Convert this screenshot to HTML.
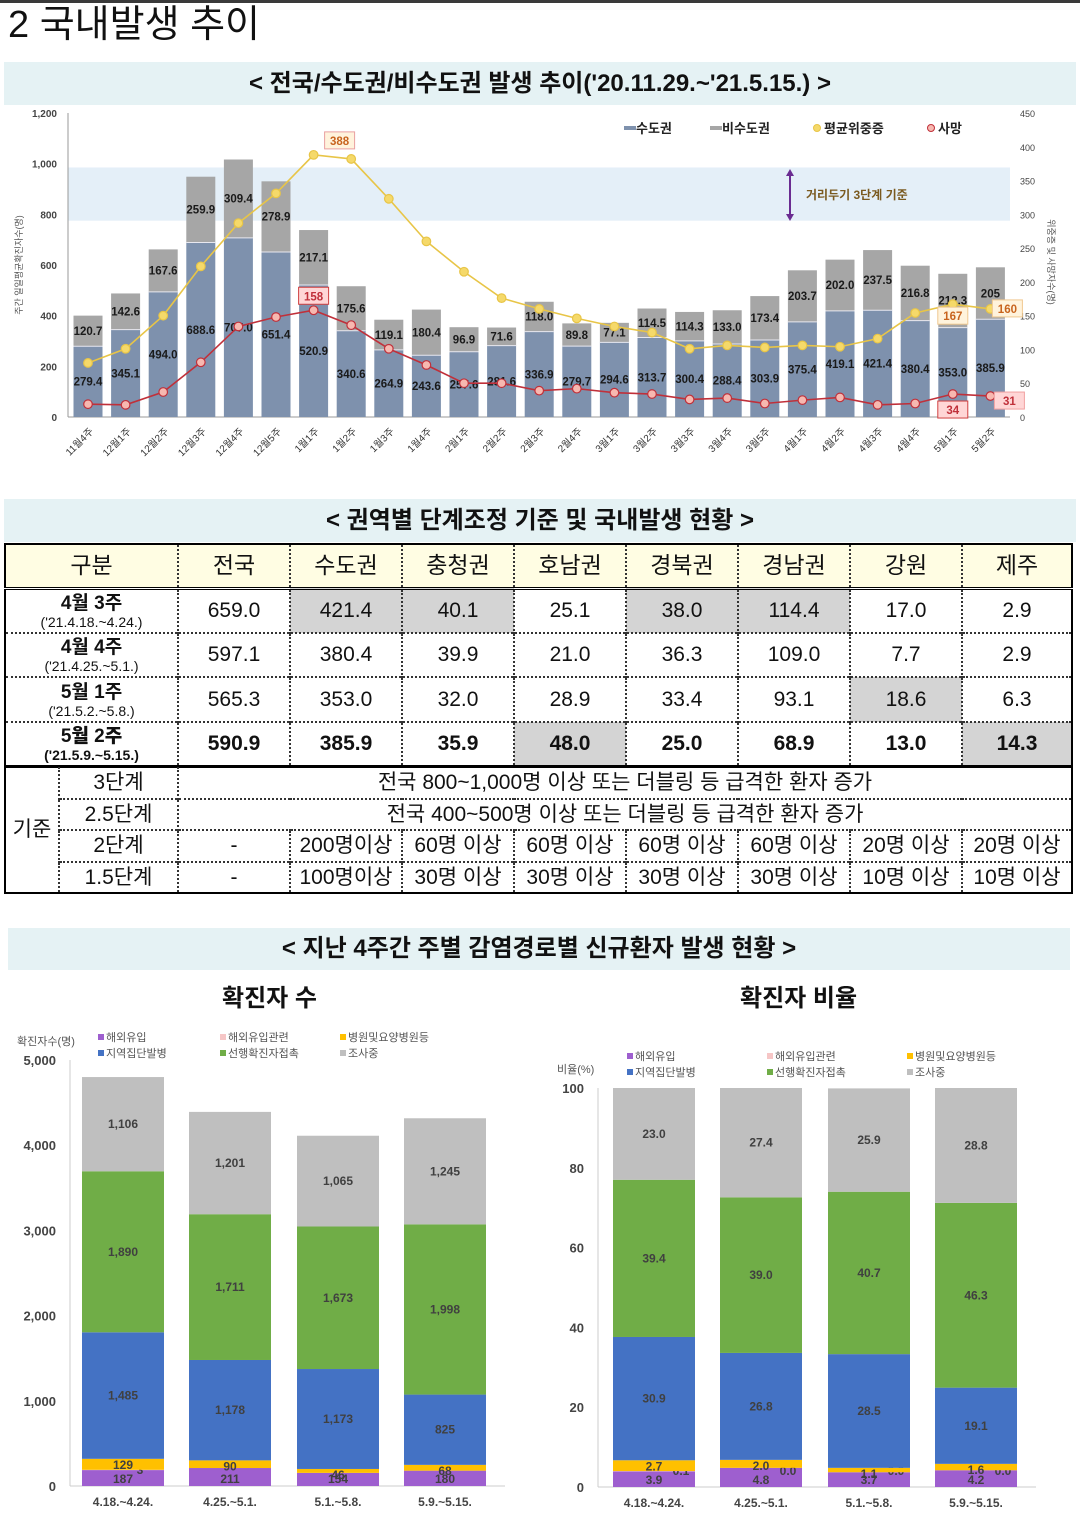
<!DOCTYPE html>
<html><head><meta charset="utf-8">
<style>
*{margin:0;padding:0;box-sizing:border-box}
body{width:1080px;height:1516px;background:#fff;position:relative;overflow:hidden;font-family:"Liberation Sans","Noto Sans CJK KR",sans-serif;color:#111}
.abs{position:absolute}
.hdr{position:absolute;left:4px;width:1072px;background:#e5f2f4;text-align:center;font-weight:bold;font-size:24px;}
table{position:absolute;left:4px;top:543px;width:1069px;border-collapse:collapse;font-size:21px}
td{text-align:center;border-left:2px dotted #333;border-top:2px dotted #333;padding:0;line-height:1}
td.first{border-left:2px solid #000}
.hrow td{background:#fffde3;font-size:23px;height:44px;border-top:2px solid #000;border-bottom:3px double #000}
.drow td{height:44.5px}
.sub{font-size:14px;display:block;margin-top:2px}
.gr{background:#d4d4d4}
.b{font-weight:bold}
.crow td{height:31.5px;font-size:21px}
svg text{font-family:"Liberation Sans","Noto Sans CJK KR",sans-serif}
</style></head>
<body>
<div class="abs" style="left:0;top:0;width:1080px;height:3px;background:#3a3a3a"></div>
<div class="abs" style="left:8px;top:3px;font-size:38px;line-height:44px">2 국내발생 추이</div>
<div class="hdr" style="top:62px;height:43px;line-height:43px">&lt; 전국/수도권/비수도권 발생 추이('20.11.29.~'21.5.15.) &gt;</div>

<svg id="top" class="abs" style="left:0;top:105px" width="1080" height="390" viewBox="0 105 1080 390"></svg>

<div class="hdr" style="top:499px;height:43px;line-height:43px">&lt; 권역별 단계조정 기준 및 국내발생 현황 &gt;</div>
<table style="border:2px solid #000">
<tr class="hrow"><td class="first" style="width:173px">구분</td><td style="width:112px">전국</td><td style="width:112px">수도권</td><td style="width:112px">충청권</td><td style="width:112px">호남권</td><td style="width:112px">경북권</td><td style="width:112px">경남권</td><td style="width:112px">강원</td><td>제주</td></tr>
<tr class="drow"><td class="first" colspan="1"><b style="font-size:19px">4월 3주</b><span class="sub">('21.4.18.~4.24.)</span></td><td>659.0</td><td class="gr">421.4</td><td class="gr">40.1</td><td>25.1</td><td class="gr">38.0</td><td class="gr">114.4</td><td>17.0</td><td>2.9</td></tr>
<tr class="drow"><td class="first"><b style="font-size:19px">4월 4주</b><span class="sub">('21.4.25.~5.1.)</span></td><td>597.1</td><td>380.4</td><td>39.9</td><td>21.0</td><td>36.3</td><td>109.0</td><td>7.7</td><td>2.9</td></tr>
<tr class="drow"><td class="first"><b style="font-size:19px">5월 1주</b><span class="sub">('21.5.2.~5.8.)</span></td><td>565.3</td><td>353.0</td><td>32.0</td><td>28.9</td><td>33.4</td><td>93.1</td><td class="gr">18.6</td><td>6.3</td></tr>
<tr class="drow b" style="border-bottom:3px solid #000"><td class="first"><b style="font-size:19px">5월 2주</b><span class="sub">('21.5.9.~5.15.)</span></td><td>590.9</td><td>385.9</td><td>35.9</td><td class="gr">48.0</td><td>25.0</td><td>68.9</td><td>13.0</td><td class="gr">14.3</td></tr>
</table>
<table style="top:767px;border:2px solid #000;border-top:none;font-size:20px">
<tr class="crow"><td class="first" rowspan="4" style="width:54px;border-top:none">기준</td><td style="width:119px;border-top:none">3단계</td><td colspan="8" style="border-top:none">전국 800~1,000명 이상 또는 더블링 등 급격한 환자 증가</td></tr>
<tr class="crow"><td>2.5단계</td><td colspan="8">전국 400~500명 이상 또는 더블링 등 급격한 환자 증가</td></tr>
<tr class="crow"><td>2단계</td><td style="width:112px">-</td><td style="width:112px">200명이상</td><td style="width:112px">60명 이상</td><td style="width:112px">60명 이상</td><td style="width:112px">60명 이상</td><td style="width:112px">60명 이상</td><td style="width:112px">20명 이상</td><td>20명 이상</td></tr>
<tr class="crow"><td>1.5단계</td><td>-</td><td>100명이상</td><td>30명 이상</td><td>30명 이상</td><td>30명 이상</td><td>30명 이상</td><td>10명 이상</td><td>10명 이상</td></tr>
</table>

<div class="hdr" style="top:928px;height:42px;line-height:42px;left:8px;width:1062px">&lt; 지난 4주간 주별 감염경로별 신규환자 발생 현황 &gt;</div>
<div class="abs" style="left:222px;top:978px;font-size:24px;font-weight:bold">확진자 수</div>
<div class="abs" style="left:740px;top:978px;font-size:24px;font-weight:bold">확진자 비율</div>
<svg id="cnt" class="abs" style="left:0;top:1020px" width="540" height="496" viewBox="0 1020 540 496"></svg>
<svg id="pct" class="abs" style="left:540px;top:1040px" width="540" height="476" viewBox="540 1040 540 476"></svg>

<script>
const weeks=["11월4주","12월1주","12월2주","12월3주","12월4주","12월5주","1월1주","1월2주","1월3주","1월4주","2월1주","2월2주","2월3주","2월4주","3월1주","3월2주","3월3주","3월4주","3월5주","4월1주","4월2주","4월3주","4월4주","5월1주","5월2주"];
const capital=[279.4,345.1,494.0,688.6,707.0,651.4,520.9,340.6,264.9,243.6,257.6,281.6,336.9,279.7,294.6,313.7,300.4,288.4,303.9,375.4,419.1,421.4,380.4,353.0,385.9];
const nonCapital=[120.7,142.6,167.6,259.9,309.4,278.9,217.1,175.6,119.1,180.4,96.9,71.6,118.0,89.8,77.1,114.5,114.3,133.0,173.4,203.7,202.0,237.5,216.8,212.3,205];
const severe=[80,101,150,223,287,331,388,382,323,260,215,176,160,146,134,125,101,106,103,106,104,116,154,167,160];
const deaths=[19,18,37,81,134,148,158,136,101,77,50,50,39,42,36,34,26,28,20,25,29,18,20,34,31];
const leftTicks=[0,200,400,600,800,1000,1200];
const rightTicks=[0,50,100,150,200,250,300,350,400,450];

const NS="http://www.w3.org/2000/svg";
function mk(svg,tag,attrs,txt){const e=document.createElementNS(NS,tag);for(const k in attrs)e.setAttribute(k,attrs[k]);if(txt!==undefined)e.textContent=txt;svg.appendChild(e);return e;}
function fmt(v){return v.toLocaleString('en-US');}

const T=document.getElementById('top');
const yL=v=>417-v*304/1200, yR=v=>417-v*304/450, xT=i=>88+i*37.6;
let el;
el=mk(T,'rect',{x:68,y:yL(985),width:942,height:yL(775)-yL(985),fill:'#e4eff8'});

mk(T,'line',{x1:68,y1:113,x2:68,y2:417,stroke:'#999'});
mk(T,'line',{x1:68,y1:417,x2:1010,y2:417,stroke:'#999'});
leftTicks.forEach(v=>{el=mk(T,'text',{x:57,y:yL(v)+4,'font-size':10,'text-anchor':'end',fill:'#444','font-weight':'bold'},fmt(v));});
rightTicks.forEach(v=>{el=mk(T,'text',{x:1020,y:yR(v)+4,'font-size':9,fill:'#444'},v);});
el=mk(T,'text',{transform:'translate(22,265) rotate(-90)','font-size':9,'text-anchor':'middle',fill:'#555'},'주간 일일평균확진자수(명)');
el=mk(T,'text',{transform:'translate(1048,262) rotate(90)','font-size':9,'text-anchor':'middle',fill:'#555'},'위중증 및 사망자수(명)');
weeks.forEach((w,i)=>{
 const x=xT(i),c=capital[i],n=nonCapital[i];
 el=mk(T,'rect',{x:x-14.5,y:yL(c),width:29,height:417-yL(c),fill:'#7e91ad'});
 el=mk(T,'rect',{x:x-14.5,y:yL(c+n),width:29,height:yL(c)-yL(c+n),fill:'#a6a6a6'});
 mk(T,'line',{x1:x-14.5,x2:x+14.5,y1:yL(c),y2:yL(c),stroke:'#e8e8f0','stroke-width':1});
 el=mk(T,'text',{x:x,y:yL(c/2)+4,'font-size':11.5,'font-weight':'bold','text-anchor':'middle',fill:'#1a1a1a'},c.toFixed(1));
 el=mk(T,'text',{x:x,y:yL(c+n/2)+4,'font-size':11.5,'font-weight':'bold','text-anchor':'middle',fill:'#1a1a1a'},(n===205?'205':n.toFixed(1)));
 el=mk(T,'text',{transform:`translate(${x+6},${432}) rotate(-45)`,'font-size':10,'text-anchor':'end',fill:'#333'},w);
});
function line(arr,stroke,fill,name){
 el=mk(T,'polyline',{points:arr.map((v,i)=>xT(i)+','+yR(v)).join(' '),fill:'none',stroke:stroke,'stroke-width':1.6});
 arr.forEach((v,i)=>{el=mk(T,'circle',{cx:xT(i),cy:yR(v),r:4.3,fill:fill,stroke:stroke,'stroke-width':1.2});});
}
line(severe,'#e8c547','#f5d96a','severe');
line(deaths,'#c0303a','#f7b8b0','death');
function callout(x,y,t,col,bg,bd,name){el=mk(T,'rect',{x:x-15,y:y-9,width:30,height:17,fill:bg,stroke:bd});
 el=mk(T,'text',{x:x,y:y+4,'font-size':11.5,'font-weight':'bold','text-anchor':'middle',fill:col},t);}
callout(xT(6)+26,yR(severe[6])-14,String(severe[6]),'#c8641e','#fff3dc','#e9a0a0','severe-peak-callout');
callout(xT(6),yR(deaths[6])-14,String(deaths[6]),'#c0303a','#ffd6d6','#d04040','death-peak-callout');
callout(xT(23),yR(severe[23])+12,String(severe[23]),'#c8641e','#fff3dc','#f0c890','severe-last1-callout');
callout(xT(24)+17,yR(severe[24]),String(severe[24]),'#c8641e','#fff3dc','#f0c890','severe-last-callout');
callout(xT(23),yR(deaths[23])+16,String(deaths[23]),'#c0303a','#ffd6d6','#d04040','death-last1-callout');
callout(xT(24)+19,yR(deaths[24])+5,String(deaths[24]),'#c0303a','#ffd6d6','#f0a0a0','death-last-callout');
const lg=[['수도권','rect','#7e91ad',624],['비수도권','rect','#a6a6a6',710],['평균위중증','circ','#f5d96a',812],['사망','circ','#f7b8b0',926]];
lg.forEach(l=>{
 if(l[1]==='rect'){mk(T,'rect',{x:l[3],y:126,width:12,height:4,fill:l[2]});}
 else{mk(T,'circle',{cx:l[3]+5,cy:128,r:3.5,fill:l[2],stroke:l[2]==='#f5d96a'?'#e8c547':'#c0303a'});}
 el=mk(T,'text',{x:l[3]+12,y:133,'font-size':13,'font-weight':'bold',fill:'#222'},l[0]);
});
mk(T,'line',{x1:790,y1:174,x2:790,y2:216,stroke:'#6a2c91','stroke-width':2});
mk(T,'polygon',{points:'786,176 794,176 790,169',fill:'#6a2c91'});
mk(T,'polygon',{points:'786,214 794,214 790,221',fill:'#6a2c91'});
el=mk(T,'text',{x:806,y:199,'font-size':12,'font-weight':'bold',fill:'#7a5a20'},'거리두기 3단계 기준');

const periods=["4.18.~4.24.","4.25.~5.1.","5.1.~5.8.","5.9.~5.15."];
const cntOverseas=[187,211,154,180];
const cntOverseasRel=[3,0,0,0];
const cntHospital=[129,90,46,68];
const cntCluster=[1485,1178,1173,825];
const cntContact=[1890,1711,1673,1998];
const cntInvest=[1106,1201,1065,1245];
const pctOverseas=[3.9,4.8,3.7,4.2];
const pctOverseasRel=[0.1,0.0,0.0,0.0];
const pctHospital=[2.7,2.0,1.1,1.6];
const pctCluster=[30.9,26.8,28.5,19.1];
const pctContact=[39.4,39.0,40.7,46.3];
const pctInvest=[23.0,27.4,25.9,28.8];
const cntTicks=[0,1000,2000,3000,4000,5000];
const pctTicks=[0,20,40,60,80,100];
const colors=['#9e5fcf','#f6c6c6','#ffc000','#4472c4','#70ad47','#bfbfbf'];
const names=['해외유입','해외유입관련','병원및요양병원등','지역집단발병','선행확진자접촉','조사중'];

function stack(S,series,ticks,y0,y1,max,axisX,cx,isPct,yTitle,tx,legY,legX){
 const y=v=>y0-v*(y0-y1)/max;
 mk(S,'line',{x1:axisX,y1:y1,x2:axisX,y2:y0,stroke:'#ccc'});
 mk(S,'line',{x1:axisX,y1:y0,x2:cx[3]+60,y2:y0,stroke:'#ccc'});
 ticks.forEach(t=>{el=mk(S,'text',{x:axisX-14,y:y(t)+5,'font-size':13,'font-weight':'bold','text-anchor':'end',fill:'#444'},isPct?t:fmt(t));});
 el=mk(S,'text',{x:tx,y:y1-15,'font-size':11,fill:'#555'},yTitle);
 periods.forEach((p,i)=>{
  let acc=0;
  series.forEach((s,k)=>{
   const v=s[i];
   el=mk(S,'rect',{x:cx[i]-41,y:y(acc+v),width:82,height:y(acc)-y(acc+v),fill:colors[k]});
   let lx=cx[i],ly=y(acc+v/2)+4,show=true;
   if(k===0){ly=y0-3;}
   if(k===1){show=isPct||v>0;lx=cx[i]+(isPct?27:17);ly=y0-12;}
   if(k===2){ly=y(acc+v)+10;}
   if(show){el=mk(S,'text',{x:lx,y:ly,'font-size':12,'font-weight':'bold','text-anchor':'middle',fill:'#404040'},isPct?v.toFixed(1):fmt(v));}
   acc+=v;
  });
  el=mk(S,'text',{x:cx[i],y:y0+20,'font-size':12,'font-weight':'bold','text-anchor':'middle',fill:'#444'},p);
 });
 names.forEach((n,k)=>{
  const lx=legX[k%3], ly=legY+(k<3?0:16);
  mk(S,'rect',{x:lx,y:ly-7,width:6,height:6,fill:colors[k]});
  el=mk(S,'text',{x:lx+8,y:ly,'font-size':11,fill:'#555'},n);
 });
}
stack(document.getElementById('cnt'),[cntOverseas,cntOverseasRel,cntHospital,cntCluster,cntContact,cntInvest],cntTicks,1486,1060,5000,70,[123,230,338,445],false,'확진자수(명)',17,1041,[98,220,340]);
stack(document.getElementById('pct'),[pctOverseas,pctOverseasRel,pctHospital,pctCluster,pctContact,pctInvest],pctTicks,1487,1088,100,598,[654,761,869,976],true,'비율(%)',557,1060,[627,767,907]);
</script>
</body></html>
